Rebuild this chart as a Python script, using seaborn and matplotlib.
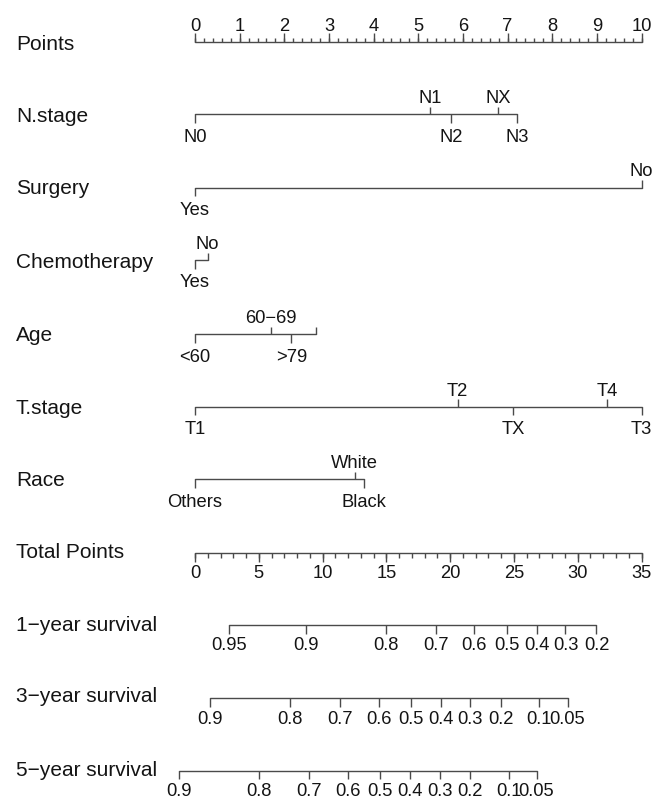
import numpy as np
import pandas as pd
import matplotlib
matplotlib.use("Agg")
import matplotlib.pyplot as plt
import seaborn as sns

# ---- nomogram content -------------------------------------------------------
points_ticks = list(range(0, 11))
total_ticks = list(range(0, 36, 5))
total_max = 35

n_stage_labels = ["N0", "N1", "N2", "NX", "N3"]
n_stage_points = [0.0, 5.26, 5.73, 6.79, 7.22]

surgery_labels = ["Yes", "No"]
surgery_points = [0.0, 10.0]

chemo_labels = ["Yes", "No"]
chemo_points = [0.0, 0.28]

age_labels = ["<60", "60\u221269", ">79", ""]
age_points = [0.0, 1.71, 2.16, 2.72]

t_stage_labels = ["T1", "T2", "TX", "T4", "T3"]
t_stage_points = [0.0, 5.88, 7.13, 9.23, 10.0]

race_labels = ["Others", "White", "Black"]
race_points = [0.0, 3.58, 3.79]

surv_probs_1y = [0.95, 0.9, 0.8, 0.7, 0.6, 0.5, 0.4, 0.3, 0.2]
surv_total_1y = [2.69, 8.67, 14.96, 18.88, 21.86, 24.42, 26.79, 29.04, 31.47]

surv_probs_3y = [0.9, 0.8, 0.7, 0.6, 0.5, 0.4, 0.3, 0.2, 0.1, 0.05]
surv_total_3y = [1.18, 7.47, 11.39, 14.39, 16.95, 19.27, 21.55, 23.98, 26.98, 29.2]

surv_probs_5y = [0.9, 0.8, 0.7, 0.6, 0.5, 0.4, 0.3, 0.2, 0.1, 0.05]
surv_total_5y = [-1.23, 5.04, 8.96, 11.96, 14.5, 16.85, 19.2, 21.55, 24.6, 26.77]

# ---- style ------------------------------------------------------------------
sns.set_theme(style="white")
plt.rcParams["font.family"] = ["Liberation Sans", "DejaVu Sans"]

W, H = 665, 798
LINE = "#4a4a4a"
TXT = "#141414"
LW = 1.0
FS_NAME = 15
FS_TICK = 13.2

fig = plt.figure(figsize=(W / 100, H / 100), dpi=100)
x0_px, x1_px = 195.0, 641.5
ax = fig.add_axes([x0_px / W, 0, (x1_px - x0_px) / W, 1])
ax.set_xlim(0, 10)
ax.set_ylim(H, 0)
ax.axis("off")

# vertical layout of the rows (baseline of each scale, in figure pixels)
rows = [
    ("Points", 42.3, 50.0),
    ("N.stage", 114.3, 121.7),
    ("Surgery", 187.7, 194.5),
    ("Chemotherapy", 260.0, 267.5),
    ("Age", 334.3, 341.3),
    ("T.stage", 406.7, 413.7),
    ("Race", 479.3, 486.3),
    ("Total Points", 553.0, 558.5),
    ("1\u2212year survival", 625.0, 630.7),
    ("3\u2212year survival", 698.0, 702.3),
    ("5\u2212year survival", 770.7, 775.7),
]
row_y = {name: y for name, y, _ in rows}

for name, _, base in rows:
    fig.text(16 / W, 1 - base / H, name, fontsize=FS_NAME, color=TXT,
             ha="left", va="baseline")


def to_points(total):
    return np.asarray(total, dtype=float) * 10.0 / total_max


# horizontal segments of every scale, drawn with seaborn
segments = []


def add_segment(name, xs):
    y = row_y[name]
    segments.append({"row": name, "x": float(np.min(xs)), "y": y})
    segments.append({"row": name, "x": float(np.max(xs)), "y": y})


add_segment("Points", points_ticks)
for name, pts in [("N.stage", n_stage_points), ("Surgery", surgery_points),
                  ("Chemotherapy", chemo_points), ("Age", age_points),
                  ("T.stage", t_stage_points), ("Race", race_points)]:
    add_segment(name, pts)
add_segment("Total Points", to_points(total_ticks))
add_segment("1\u2212year survival", to_points(surv_total_1y))
add_segment("3\u2212year survival", to_points(surv_total_3y))
add_segment("5\u2212year survival", to_points(surv_total_5y))

seg_df = pd.DataFrame(segments)
sns.lineplot(data=seg_df, x="x", y="y", units="row", estimator=None,
             color=LINE, lw=LW, legend=False, ax=ax, clip_on=False)
ax.set_xlim(0, 10)
ax.set_ylim(H, 0)
ax.axis("off")

# Points scale: labels above, ticks pointing up
yp = row_y["Points"]
minor = np.arange(0, 10.0001, 0.2)
ax.vlines(minor, yp - 4.5, yp, color=LINE, lw=LW, clip_on=False)
ax.vlines(points_ticks, yp - 9, yp, color=LINE, lw=LW, clip_on=False)
for v in points_ticks:
    ax.text(v, yp - 11.6, f"{v}", fontsize=FS_TICK, color=TXT,
            ha="center", va="baseline", clip_on=False)


# categorical predictors: labels alternate below/above along the scale
def draw_factor(name, labels, pts):
    y = row_y[name]
    order = np.argsort(pts, kind="stable")
    for rank, i in enumerate(order):
        p = pts[i]
        if rank % 2 == 0:
            ax.vlines(p, y, y + 8.5, color=LINE, lw=LW, clip_on=False)
            ax.text(p, y + 27.3, labels[i], fontsize=FS_TICK, color=TXT,
                    ha="center", va="baseline", clip_on=False)
        else:
            ax.vlines(p, y - 7.5, y, color=LINE, lw=LW, clip_on=False)
            ax.text(p, y - 11.2, labels[i], fontsize=FS_TICK, color=TXT,
                    ha="center", va="baseline", clip_on=False)


draw_factor("N.stage", n_stage_labels, n_stage_points)
draw_factor("Surgery", surgery_labels, surgery_points)
draw_factor("Chemotherapy", chemo_labels, chemo_points)
draw_factor("Age", age_labels, age_points)
draw_factor("T.stage", t_stage_labels, t_stage_points)
draw_factor("Race", race_labels, race_points)

# Total Points scale: ticks hang below, labels underneath
yt = row_y["Total Points"]
ax.vlines(to_points(np.arange(0, total_max + 1, 1)), yt, yt + 4.5,
          color=LINE, lw=LW, clip_on=False)
ax.vlines(to_points(total_ticks), yt, yt + 8.5, color=LINE, lw=LW,
          clip_on=False)
for v in total_ticks:
    ax.text(to_points(v), yt + 25.3, f"{v}", fontsize=FS_TICK, color=TXT,
            ha="center", va="baseline", clip_on=False)


# survival probability scales
def draw_surv(name, probs, totals):
    y = row_y[name]
    xs = to_points(totals)
    ax.vlines(xs, y, y + 8.5, color=LINE, lw=LW, clip_on=False)
    for p, x in zip(probs, xs):
        ax.text(x, y + 25.5, f"{p:g}", fontsize=FS_TICK, color=TXT,
                ha="center", va="baseline", clip_on=False)


draw_surv("1\u2212year survival", surv_probs_1y, surv_total_1y)
draw_surv("3\u2212year survival", surv_probs_3y, surv_total_3y)
draw_surv("5\u2212year survival", surv_probs_5y, surv_total_5y)

fig.savefig("out.png", dpi=100, facecolor="white")
